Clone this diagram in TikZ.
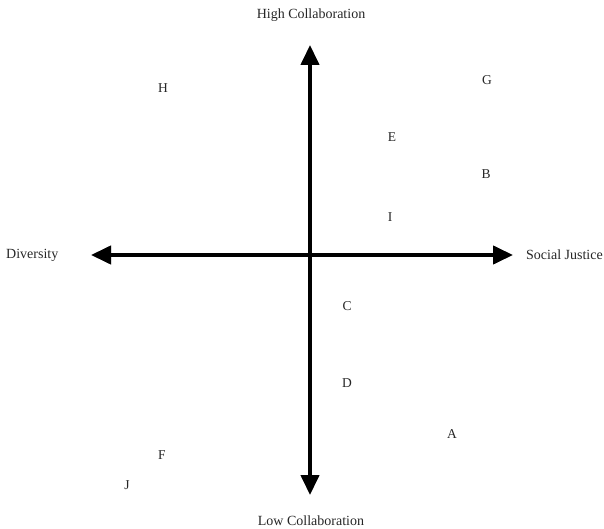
\documentclass[tikz,border=0pt]{standalone}
\usepackage{fontspec}
\setmainfont{Liberation Serif}
\usetikzlibrary{arrows.meta}
\begin{document}
\begin{tikzpicture}[x=1pt,y=-1pt,
  lbl/.style={font=\fontsize{14}{16}\selectfont, text=black!85, inner sep=0pt},
  pt/.style={font=\fontsize{13.5}{15}\selectfont, text=black!85, inner sep=0pt},
  axis/.style={line width=4pt, {Triangle[length=20pt,width=18pt]}-{Triangle[length=20pt,width=18pt]}},
  shadow/.style={axis, draw=black!22}]
\useasboundingbox (0,0) rectangle (604,529);
\coordinate (top) at (310,45);
\coordinate (bot) at (310,495);
\coordinate (lft) at (91,255);
\coordinate (rgt) at (513,255);
\draw[shadow, shift={(1.5,2.5)}] (top) -- (bot);
\draw[shadow, shift={(1.5,2.5)}] (lft) -- (rgt);
\draw[axis] (top) -- (bot);
\draw[axis] (lft) -- (rgt);
\node[lbl] (hc) at (311,15) {High Collaboration};
\node[lbl] (lc) at (311,521) {Low Collaboration};
\node[lbl, anchor=west] (dv) at (6,255) {Diversity};
\node[lbl, anchor=east] (sj) at (603,255) {Social Justice};
\node[pt] (H) at (163,88) {H};
\node[pt] (G) at (487,80) {G};
\node[pt] (E) at (392,137) {E};
\node[pt] (B) at (486,174) {B};
\node[pt] (I) at (390,217) {I};
\node[pt] (C) at (347,306) {C};
\node[pt] (D) at (347,383) {D};
\node[pt] (A) at (452,434) {A};
\node[pt] (F) at (162,455) {F};
\node[pt] (J) at (127,485) {J};
\end{tikzpicture}
\end{document}
